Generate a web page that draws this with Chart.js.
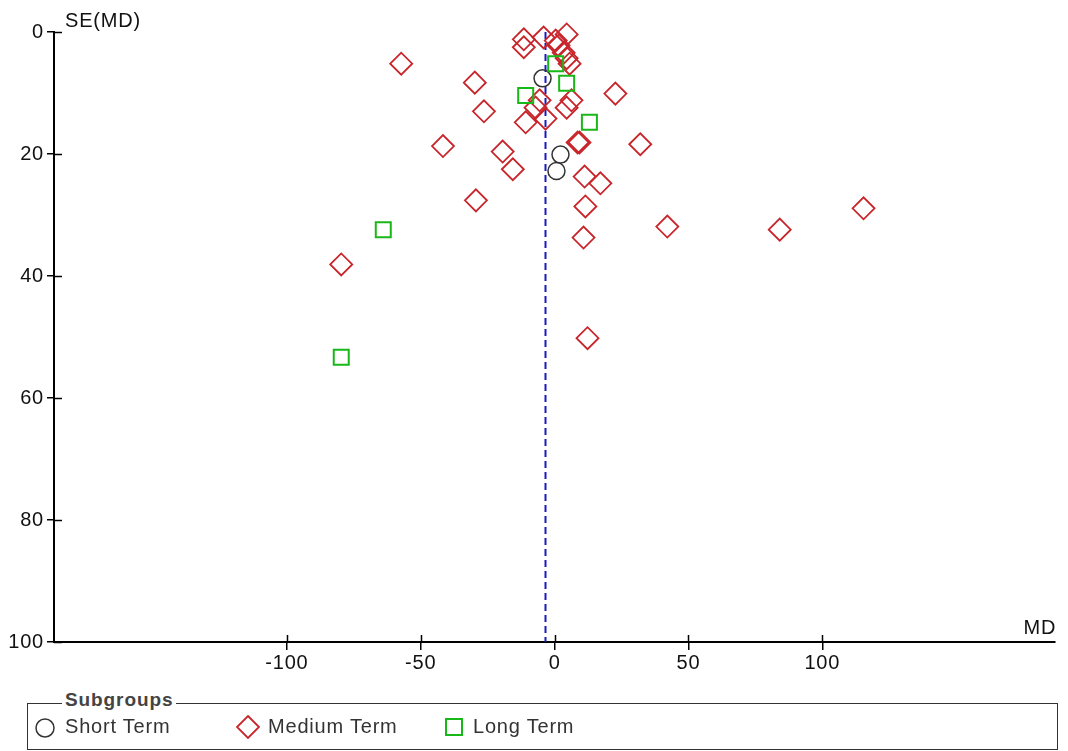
<!DOCTYPE html>
<html>
<head>
<meta charset="utf-8">
<script src="https://cdn.jsdelivr.net/npm/chart.js@4/dist/chart.umd.min.js"></script>
<style>
  html,body{margin:0;padding:0;background:#fff;}
  body{width:1068px;height:751px;position:relative;overflow:hidden;font-family:"Liberation Sans",Arial,sans-serif;}
  #wrap{position:absolute;left:0;top:0;width:1068px;height:695px;}
  #box{position:absolute;left:27px;top:703px;width:1029px;height:45px;border:1.5px solid #333;}
  #ttl{position:absolute;left:62px;top:689px;padding:0 3px;background:#fff;font-weight:bold;font-size:19px;letter-spacing:0.9px;color:#444;}
  .it{position:absolute;top:715px;font-size:20px;letter-spacing:0.8px;color:#333;white-space:nowrap;}
  .ic{position:absolute;}
</style>
</head>
<body>
<div id="wrap"><canvas id="c" width="1068" height="695"></canvas></div>
<div id="box"></div>
<div id="ttl">Subgroups</div>
<svg class="ic" style="left:34px;top:717px" width="22" height="22"><circle cx="11" cy="11" r="9" fill="none" stroke="#333" stroke-width="1.5"/></svg>
<div class="it" style="left:65px">Short Term</div>
<svg class="ic" style="left:236px;top:715px" width="24" height="24"><polygon points="12,1 23,12 12,23 1,12" fill="none" stroke="#c8242a" stroke-width="1.8"/></svg>
<div class="it" style="left:268px">Medium Term</div>
<svg class="ic" style="left:444px;top:717px" width="20" height="20"><rect x="2" y="2" width="16" height="16" fill="none" stroke="#18b818" stroke-width="2"/></svg>
<div class="it" style="left:473px">Long Term</div>
<script>
// Data (MD, SE(MD))
const shortMD = [-4.5, 2.2, 0.7];
const shortSE = [7.6, 20.1, 22.8];

const mediumMD = [-11.5, -11.5, -4.1, 0.4, 4.5, 1.5, 3.4, 4.5, 5.6, -57.3, -29.8, -26.4, 22.7, -5.6, -7.1, 6.3, 4.5, -10.8, -3.4, -41.7, -19.4, -15.6, -29.4, 8.6, 9.3, 32.0, 11.2, 17.1, 11.5, 10.8, 12.3, 42.1, 84.1, 115.4, -79.7];
const mediumSE = [1.2, 2.5, 0.9, 1.4, 0.4, 2.2, 3.4, 4.3, 5.2, 5.2, 8.3, 13.0, 10.1, 11.2, 12.4, 11.2, 12.4, 14.8, 14.2, 18.7, 19.6, 22.5, 27.6, 18.1, 18.1, 18.4, 23.7, 24.8, 28.6, 33.7, 50.2, 31.9, 32.4, 28.9, 38.1];

const longMD = [0.4, 4.5, -10.8, 13.0, -64.0, -79.7];
const longSE = [5.2, 8.4, 10.4, 14.8, 32.4, 53.3];

const pooledMD = -3.4;
const seRange = [0, 100];
const xTicks = [-100, -50, 0, 50, 100];
const yTicks = [0, 20, 40, 60, 80, 100];

const pts = (xs, ys) => xs.map((x, i) => ({x: x, y: ys[i]}));
const FONT = '"Liberation Sans", Arial, sans-serif';

const spacing = {
  id: 'spacing',
  beforeDraw(chart) { chart.ctx.letterSpacing = '0.8px'; }
};

const crossTicks = {
  id: 'crossTicks',
  afterDraw(chart) {
    const ctx = chart.ctx, a = chart.chartArea;
    const xs = chart.scales.x, ys = chart.scales.y;
    ctx.save();
    ctx.strokeStyle = '#000';
    ctx.lineWidth = 1.5;
    xs.ticks.forEach(t => {
      const px = Math.round(xs.getPixelForValue(t.value)) + 0.5;
      ctx.beginPath(); ctx.moveTo(px, a.bottom); ctx.lineTo(px, a.bottom - 7); ctx.stroke();
    });
    ys.ticks.forEach(t => {
      const py = Math.round(ys.getPixelForValue(t.value)) + 0.5;
      ctx.beginPath(); ctx.moveTo(a.left, py); ctx.lineTo(a.left + 8, py); ctx.stroke();
    });
    ctx.fillStyle = '#111';
    ctx.letterSpacing = '0.8px';
    ctx.font = '20px ' + FONT;
    ctx.textBaseline = 'alphabetic';
    ctx.textAlign = 'left';
    ctx.fillText('SE(MD)', a.left + 11, a.top - 5);
    ctx.textAlign = 'right';
    ctx.fillText('MD', a.right + 1, a.bottom - 8);
    ctx.restore();
  }
};

new Chart(document.getElementById('c'), {
  type: 'scatter',
  data: {
    datasets: [
      {
        label: 'Pooled',
        data: [{x: pooledMD, y: seRange[0]}, {x: pooledMD, y: seRange[1]}],
        showLine: true,
        borderColor: '#1a1ac0',
        borderWidth: 2,
        borderDash: [7, 4],
        pointRadius: 0,
        clip: false,
        order: 5
      },
      {
        label: 'Short Term',
        data: pts(shortMD, shortSE),
        pointStyle: 'circle',
        pointRadius: 8.5,
        pointBorderColor: '#333',
        pointBackgroundColor: 'rgba(0,0,0,0)',
        pointBorderWidth: 1.5,
        clip: false,
        order: 1
      },
      {
        label: 'Medium Term',
        data: pts(mediumMD, mediumSE),
        pointStyle: 'rectRot',
        pointRadius: 11,
        pointBorderColor: '#c8242a',
        pointBackgroundColor: 'rgba(0,0,0,0)',
        pointBorderWidth: 1.8,
        clip: false,
        order: 2
      },
      {
        label: 'Long Term',
        data: pts(longMD, longSE),
        pointStyle: 'rect',
        pointRadius: 10.6,
        pointBorderColor: '#18b818',
        pointBackgroundColor: 'rgba(0,0,0,0)',
        pointBorderWidth: 2,
        clip: false,
        order: 0
      }
    ]
  },
  options: {
    responsive: false,
    animation: false,
    events: [],
    layout: {padding: {top: 32, right: 9, left: 0, bottom: 0}},
    plugins: {legend: {display: false}, tooltip: {enabled: false}},
    scales: {
      x: {
        type: 'linear',
        min: -187, max: 187,
        afterBuildTicks: s => { s.ticks = xTicks.map(v => ({value: v})); },
        afterFit: s => { s.height = 53; },
        grid: {display: true, drawOnChartArea: false, drawTicks: true, tickLength: 8, color: '#000', lineWidth: 1.5},
        border: {display: true, color: '#000', width: 2},
        ticks: {color: '#111', font: {size: 20, family: FONT}, padding: 1, maxRotation: 0}
      },
      y: {
        type: 'linear',
        reverse: true,
        min: 0, max: 100,
        afterBuildTicks: s => { s.ticks = yTicks.map(v => ({value: v})); },
        afterFit: s => { s.width = 54; },
        grid: {display: true, drawOnChartArea: false, drawTicks: true, tickLength: 7, color: '#000', lineWidth: 1.5},
        border: {display: true, color: '#000', width: 2},
        ticks: {color: '#111', font: {size: 20, family: FONT}, padding: 3}
      }
    }
  },
  plugins: [spacing, crossTicks]
});
</script>
</body>
</html>
